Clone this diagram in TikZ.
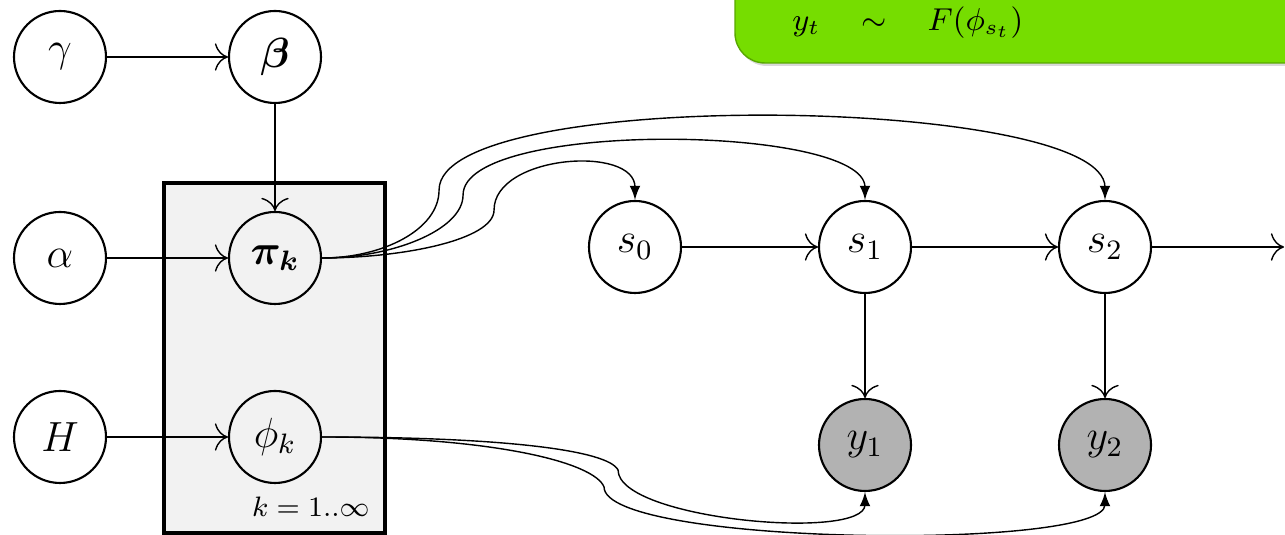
\documentclass[tikz,border=0pt]{standalone}
\usepackage{bm}
\usetikzlibrary{positioning,calc,backgrounds,arrows.meta}

\definecolor{boxgreen}{RGB}{118,221,0}
\definecolor{boxedge}{RGB}{88,168,0}

\begin{document}
\begin{tikzpicture}[
    node distance=2cm, on grid,
    latent/.style={circle,draw,semithick,minimum size=0.92cm,inner sep=0pt,font=\large},
    observed/.style={latent,fill=black!30},
    plate/.style={draw,line width=1pt,fill=black!5},
    every edge/.style={draw,-{To[scale=1.5]}}]
\useasboundingbox (0,0) rectangle (12.85,-5.35);

% likelihood box
\fill[black!15,rounded corners=0.3cm] (7.37,0.5) rectangle (13.4,-0.66);
\draw[fill=boxgreen,draw=boxedge,rounded corners=0.3cm]
    (7.35,0.5) rectangle (13.4,-0.63);
\node[anchor=west,font=\small] (lik) at (7.80,-0.23)
    {$y_t\hspace{3.2mm}\sim\hspace{3.2mm}F(\phi_{s_t})$};

% hyperparameters and plate
\node[latent] (gamma) at (0.60,-0.57) {$\gamma$};
\node[latent,right=2.15 of gamma] (beta) {$\bm\beta$};
\node[latent,below=2.01 of beta] (pi) {$\bm{\pi_k}$};
\node[latent,left=2.15 of pi] (alpha) {$\alpha$};
\node[latent,below=1.79 of pi] (phi) {$\phi_k$};
\node[latent,left=2.15 of phi] (H) {$H$};
\node[anchor=south east,font=\footnotesize] (krange)
    at ($(phi.south)+(1.07,-0.45)$) {$k=1..\infty$};
\begin{scope}[on background layer]
  \draw[plate] ($(pi.north)+(-1.11,0.28)$) rectangle ($(phi.south)+(1.10,-0.49)$);
\end{scope}

% state chain
\node[latent] (s0) at (6.35,-2.47) {$s_0$};
\node[latent,right=2.30 of s0] (s1) {$s_1$};
\node[latent,right=2.40 of s1] (s2) {$s_2$};
\node[observed,below=1.98 of s1] (y1) {$y_1$};
\node[observed,below=1.98 of s2] (y2) {$y_2$};
\coordinate (more) at (12.84,-2.47);

\path (gamma) edge (beta)
      (beta) edge (pi)
      (alpha) edge (pi)
      (H) edge (phi)
      (s0) edge (s1)
      (s1) edge (s2)
      (s2) edge (more)
      (s1) edge (y1)
      (s2) edge (y2);

% transitions pi_k -> s_t
\draw[-latex] (pi.east) .. controls +(0.8,0) and +(0,-0.3) .. ++(1.72,0.48)
    to[out=90,in=90] (s0.north);
\draw[-latex] (pi.east) .. controls +(0.7,0) and +(0,-0.35) .. ++(1.41,0.63)
    to[out=90,in=90,looseness=0.48] (s1.north);
\draw[-latex] (pi.east) .. controls +(0.6,0) and +(0,-0.4) .. ++(1.17,0.68)
    to[out=90,in=90,looseness=0.40] (s2.north);

% emissions phi_k -> y_t
\draw[-latex] (phi.east) .. controls +(1.8,0) and +(-0.1,0.2) .. ++(2.96,-0.33)
    to[out=-90,in=-90,looseness=0.51] (y1.south);
\draw[-latex] (phi.east) .. controls +(1.7,0) and +(-0.1,0.25) .. ++(2.82,-0.50)
    to[out=-90,in=-90,looseness=0.30] (y2.south);
\end{tikzpicture}
\end{document}
